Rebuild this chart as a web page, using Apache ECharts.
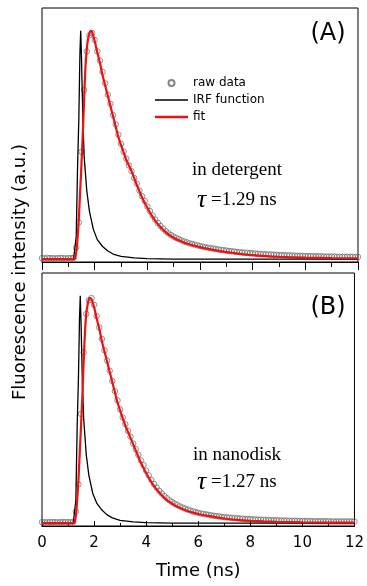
<!DOCTYPE html>
<html>
<head>
<meta charset="utf-8">
<script src="https://cdn.jsdelivr.net/npm/echarts@6/dist/echarts.min.js"></script>
<style>html,body{margin:0;padding:0;background:#fff}#c{width:367px;height:586px}</style>
</head>
<body>
<div id="c"></div>
<script>
// ---- data ----
const rawTime = [0.0,0.1,0.2,0.3,0.4,0.5,0.6,0.7,0.8,0.9,1.0,1.1,1.2,1.3,1.4,1.5,1.6,1.7,1.8,1.9,
2.0,2.1,2.2,2.3,2.4,2.5,2.6,2.7,2.8,2.9,3.0,3.1,3.2,3.3,3.4,3.5,3.6,3.7,3.8,3.9,
4.0,4.1,4.2,4.3,4.4,4.5,4.6,4.7,4.8,4.9,5.0,5.1,5.2,5.3,5.4,5.5,5.6,5.7,5.8,5.9,
6.0,6.1,6.2,6.3,6.4,6.5,6.6,6.7,6.8,6.9,7.0,7.1,7.2,7.3,7.4,7.5,7.6,7.7,7.8,7.9,
8.0,8.1,8.2,8.3,8.4,8.5,8.6,8.7,8.8,8.9,9.0,9.1,9.2,9.3,9.4,9.5,9.6,9.7,9.8,9.9,
10.0,10.1,10.2,10.3,10.4,10.5,10.6,10.7,10.8,10.9,11.0,11.1,11.2,11.3,11.4,11.5,11.6,11.7,11.8,11.9,12.0];

const rawA = [0.004,0.003,0.005,0.004,0.004,0.003,0.004,0.005,0.004,0.003,0.004,0.004,0.005,0.05,0.16,0.47,0.74,0.91,0.98,0.99,
0.96,0.91,0.87,0.82,0.77,0.72,0.68,0.63,0.59,0.545,0.505,0.47,0.44,0.41,0.385,0.355,0.33,0.30,0.275,0.255,
0.23,0.21,0.19,0.173,0.158,0.145,0.133,0.122,0.113,0.105,0.098,0.092,0.087,0.082,0.077,0.073,0.069,0.066,0.063,0.06,
0.057,0.054,0.052,0.05,0.048,0.046,0.044,0.042,0.04,0.039,0.037,0.035,0.034,0.033,0.031,0.03,0.029,0.028,0.027,0.026,
0.025,0.024,0.023,0.022,0.022,0.021,0.02,0.02,0.019,0.018,0.018,0.017,0.017,0.016,0.016,0.015,0.015,0.014,0.014,0.014,
0.013,0.013,0.013,0.012,0.012,0.012,0.012,0.011,0.011,0.011,0.011,0.011,0.01,0.01,0.01,0.01,0.01,0.01,0.01,0.009,0.009];

const rawB = [0.004,0.004,0.003,0.005,0.004,0.004,0.003,0.004,0.005,0.004,0.004,0.003,0.005,0.05,0.17,0.48,0.75,0.92,0.98,0.99,
0.96,0.91,0.86,0.81,0.76,0.715,0.67,0.625,0.58,0.54,0.50,0.465,0.435,0.405,0.38,0.35,0.325,0.30,0.275,0.255,
0.23,0.21,0.19,0.172,0.156,0.142,0.13,0.119,0.109,0.1,0.092,0.085,0.079,0.073,0.068,0.063,0.059,0.055,0.051,0.048,
0.045,0.042,0.04,0.038,0.036,0.034,0.032,0.03,0.029,0.027,0.026,0.025,0.024,0.023,0.022,0.021,0.02,0.019,0.018,0.018,
0.017,0.016,0.016,0.015,0.015,0.014,0.014,0.013,0.013,0.012,0.012,0.012,0.011,0.011,0.011,0.01,0.01,0.01,0.01,0.009,
0.009,0.009,0.009,0.009,0.008,0.008,0.008,0.008,0.008,0.008,0.008,0.007,0.007,0.007,0.007,0.007,0.007,0.007,0.007,0.007,0.007];

const fitTime = [0,1.2,1.25,1.3,1.35,1.4,1.45,1.5,1.55,1.6,1.65,1.7,1.75,1.8,1.85,1.9,2.0,2.1,2.2,2.3,2.4,2.5,2.6,2.7,2.8,2.9,3.0,
3.2,3.4,3.6,3.8,4.0,4.2,4.4,4.6,4.8,5.0,5.2,5.4,5.6,5.8,6.0,6.5,7.0,7.5,8.0,8.5,9.0,10.0,11.0,12.0];
const fitA = [0,0,0.002,0.03,0.09,0.18,0.3,0.42,0.55,0.7,0.84,0.92,0.965,0.99,1.0,0.995,0.955,0.905,0.86,0.805,0.76,0.715,0.67,0.625,0.58,0.535,0.5,
0.435,0.385,0.325,0.27,0.225,0.185,0.153,0.128,0.108,0.093,0.082,0.072,0.065,0.058,0.052,0.04,0.03,0.023,0.017,0.013,0.01,0.006,0.004,0.003];
const fitB = [0,0,0.002,0.03,0.1,0.19,0.31,0.43,0.56,0.71,0.84,0.92,0.96,0.985,0.99,0.985,0.95,0.9,0.855,0.8,0.755,0.71,0.665,0.62,0.575,0.53,0.495,
0.43,0.375,0.32,0.265,0.22,0.18,0.148,0.122,0.1,0.085,0.072,0.062,0.053,0.046,0.04,0.029,0.02,0.014,0.01,0.007,0.005,0.003,0.002,0.002];

const irfTime = [0,1.2,1.25,1.3,1.35,1.4,1.44,1.47,1.5,1.55,1.6,1.7,1.8,1.95,2.1,2.3,2.5,2.7,3.0,3.5,4.0,5.0,12.0];
const irfA = [0,0,0.005,0.1,0.4,0.62,0.9,1.0,0.88,0.62,0.45,0.3,0.21,0.13,0.085,0.055,0.035,0.022,0.012,0.005,0.002,0,0];
const irfB = [0,0,0.005,0.1,0.42,0.64,0.9,1.0,0.88,0.62,0.46,0.3,0.21,0.13,0.088,0.057,0.036,0.023,0.012,0.005,0.002,0,0];

const xTicks = [0,2,4,6,8,10,12];
const labels = ['raw data','IRF function','fit'];

function pairs(t, v){ return t.map((x,i)=>[x, v[i]]); }

const chart = echarts.init(document.getElementById('c'), null, {renderer:'canvas'});
const RED = '#f01010';
const baseX = {
  type:'value', min:0, max:12, interval:2,
  splitLine:{show:false},
  axisLine:{show:true, onZero:false, lineStyle:{color:'#000', width:1}},
};
const baseY = {
  type:'value', min:-0.013, max:1.1,
  axisLine:{show:false}, axisTick:{show:false}, axisLabel:{show:false}, splitLine:{show:false}
};
chart.setOption({
  animation:false,
  backgroundColor:'#fff',
  grid:[
    {left:42, right:9, top:8, height:254, show:true, borderColor:'#000', borderWidth:1, backgroundColor:'rgba(0,0,0,0)'},
    {left:42, right:9, top:273, height:253, show:true, borderColor:'#000', borderWidth:1, backgroundColor:'rgba(0,0,0,0)'}
  ],
  xAxis:[
    Object.assign({}, baseX, {gridIndex:0, axisLabel:{show:false},
      axisTick:{show:true, inside:false, length:8, lineStyle:{color:'#000'}},
      minorTick:{show:true, splitNumber:2, length:5, lineStyle:{color:'#000'}}}),
    Object.assign({}, baseX, {gridIndex:1,
      axisTick:{show:true, inside:true, length:5, lineStyle:{color:'#000'}},
      minorTick:{show:true, splitNumber:2, length:3, lineStyle:{color:'#000'}},
      axisLabel:{show:true, color:'#000', fontFamily:'DejaVu Sans', fontSize:15, margin:10,
        customValues: xTicks},
      name:'Time (ns)', nameLocation:'middle', nameGap:36,
      nameTextStyle:{color:'#000', fontFamily:'DejaVu Sans', fontSize:18}})
  ],
  yAxis:[
    Object.assign({}, baseY, {gridIndex:0}),
    Object.assign({}, baseY, {gridIndex:1})
  ],
  legend:{
    orient:'vertical', left:150, top:72, itemWidth:33, itemHeight:6, itemGap:5,
    data:[
      {name:labels[0], icon:'circle'},
      {name:labels[1], icon:'path://M0,0H32V1.4H0Z'},
      {name:labels[2], icon:'path://M0,0H32V2.2H0Z'}
    ],
    textStyle:{color:'#000', fontFamily:'DejaVu Sans', fontSize:12},
    selectedMode:false
  },
  graphic:[
    {type:'text', x:20, y:272, rotation:Math.PI/2,
     style:{text:'Fluorescence intensity (a.u.)', fill:'#000', font:'18px "DejaVu Sans"', align:'center', verticalAlign:'middle'}},
    {type:'text', x:328, y:34, style:{text:'(A)', fill:'#000', font:'24px "DejaVu Sans"', align:'center', verticalAlign:'middle'}},
    {type:'text', x:328, y:308, style:{text:'(B)', fill:'#000', font:'24px "DejaVu Sans"', align:'center', verticalAlign:'middle'}},
    {type:'text', x:237, y:170, style:{text:'in detergent', fill:'#000', font:'19px "Liberation Serif"', align:'center', verticalAlign:'middle'}},
    {type:'text', x:197, y:200, style:{text:'{t|τ} =1.29 ns', fill:'#000', font:'19px "Liberation Serif"', verticalAlign:'middle',
      rich:{t:{fontStyle:'italic', fontSize:26, fontFamily:'Liberation Serif'}}}},
    {type:'text', x:237, y:455, style:{text:'in nanodisk', fill:'#000', font:'19px "Liberation Serif"', align:'center', verticalAlign:'middle'}},
    {type:'text', x:197, y:482, style:{text:'{t|τ} =1.27 ns', fill:'#000', font:'19px "Liberation Serif"', verticalAlign:'middle',
      rich:{t:{fontStyle:'italic', fontSize:26, fontFamily:'Liberation Serif'}}}}
  ],
  series:[
    {name:labels[0], type:'scatter', xAxisIndex:0, yAxisIndex:0, data:pairs(rawTime, rawA), symbol:'circle', symbolSize:5.5,
     itemStyle:{color:'rgba(255,255,255,0)', borderColor:'#666', borderWidth:0.9}, z:2},
    {name:labels[1], type:'line', xAxisIndex:0, yAxisIndex:0, data:pairs(irfTime, irfA), showSymbol:false, symbol:'none',
     lineStyle:{color:'#000', width:1.3}, itemStyle:{color:'#000'}, z:3},
    {name:labels[2], type:'line', xAxisIndex:0, yAxisIndex:0, data:pairs(fitTime, fitA), showSymbol:false, symbol:'none', smooth:0.3,
     lineStyle:{color:RED, width:2.2}, itemStyle:{color:RED}, z:4},
    {name:labels[0], type:'scatter', xAxisIndex:1, yAxisIndex:1, data:pairs(rawTime, rawB), symbol:'circle', symbolSize:5.5,
     itemStyle:{color:'rgba(255,255,255,0)', borderColor:'#666', borderWidth:0.9}, z:2},
    {name:labels[1], type:'line', xAxisIndex:1, yAxisIndex:1, data:pairs(irfTime, irfB), showSymbol:false, symbol:'none',
     lineStyle:{color:'#000', width:1.3}, itemStyle:{color:'#000'}, z:3},
    {name:labels[2], type:'line', xAxisIndex:1, yAxisIndex:1, data:pairs(fitTime, fitB), showSymbol:false, symbol:'none', smooth:0.3,
     lineStyle:{color:RED, width:2.2}, itemStyle:{color:RED}, z:4}
  ]
});
</script>
</body>
</html>
